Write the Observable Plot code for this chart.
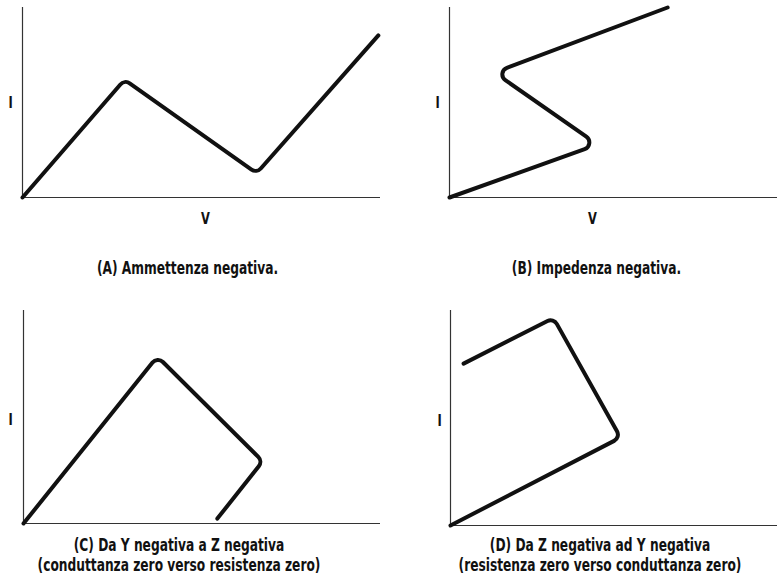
<!DOCTYPE html>
<html>
<head>
<meta charset="utf-8">
<script src="https://cdn.jsdelivr.net/npm/d3@7"></script>
<script src="https://cdn.jsdelivr.net/npm/@observablehq/plot@0.6"></script>
<style>
  html, body { margin: 0; padding: 0; background: #fff; }
  #wrap { position: relative; width: 777px; height: 580px; overflow: hidden; }
  .panel { position: absolute; }
</style>
</head>
<body>
<div id="wrap"></div>
<script>
// Panel (A) Ammettenza negativa — V (x) and I (y), arbitrary units 0..10
const aV = [0, 2.85, 6.54, 9.94];
const aI = [0, 6.2, 1.28, 8.53];
// Panel (B) Impedenza negativa
const bV = [0, 4.51, 1.37, 6.65];
const bI = [0, 2.79, 6.58, 10.0];
// Panel (C) Da Y negativa a Z negativa
const cV = [0, 3.75, 6.70, 5.43];
const cI = [0, 7.84, 2.92, 0.23];
// Panel (D) Da Z negativa ad Y negativa
const dV = [0, 5.20, 3.15, 0.40];
const dI = [0, 4.09, 9.65, 7.53];

const xLabel = "V";
const yLabel = "I";
const captionA = "(A) Ammettenza negativa.";
const captionB = "(B) Impedenza negativa.";
const captionC = "(C) Da Y negativa a Z negativa\n(conduttanza zero verso resistenza zero)";
const captionD = "(D) Da Z negativa ad Y negativa\n(resistenza zero verso conduttanza zero)";

const FONT = "'DejaVu Sans Condensed', 'Liberation Sans Narrow', sans-serif";

// Polyline with rounded corners (fixed radius), used as a Plot curve factory
function roundedCorners(radius) {
  return function(context) {
    let pts = [];
    return {
      areaStart() {}, areaEnd() {},
      lineStart() { pts = []; },
      point(x, y) { pts.push([+x, +y]); },
      lineEnd() {
        if (!pts.length) return;
        context.moveTo(pts[0][0], pts[0][1]);
        for (let k = 1; k < pts.length - 1; k++) {
          context.arcTo(pts[k][0], pts[k][1], pts[k + 1][0], pts[k + 1][1], radius);
        }
        const last = pts[pts.length - 1];
        context.lineTo(last[0], last[1]);
      }
    };
  };
}

function panel(V, I, opts) {
  const pts = V.map((v, i) => ({v, i: I[i]}));
  const textStyle = {fontWeight: "bold", fontFamily: FONT, fill: "#111", lineAnchor: "middle"};
  const marks = [
    Plot.ruleX([0], {stroke: "#333", strokeWidth: 1.2}),
    Plot.ruleY([0], {stroke: "#333", strokeWidth: 1.2}),
    Plot.line(pts, {x: "v", y: "i", stroke: "#111", strokeWidth: 4, curve: roundedCorners(7),
      strokeLinejoin: "round", strokeLinecap: "round"}),
    Plot.text([yLabel], {text: d => d, frameAnchor: "left", dx: opts.iDx, dy: opts.iDy || 0,
      fontSize: 15, ...textStyle}),
    Plot.text([opts.caption], {text: d => d, frameAnchor: "bottom", dx: opts.capDx, dy: opts.capDy,
      fontSize: 16, lineHeight: 1.19, ...textStyle})
  ];
  if (opts.showV) {
    marks.push(Plot.text([xLabel], {text: d => d, frameAnchor: "bottom", dx: opts.vDx, dy: 21,
      fontSize: 15, ...textStyle}));
  }
  const p = Plot.plot({
    width: opts.width, height: opts.height,
    marginLeft: opts.ml, marginRight: opts.mr, marginTop: opts.mt, marginBottom: opts.mb,
    x: {domain: [0, 10], axis: null},
    y: {domain: [0, 10], axis: null},
    style: {background: "transparent", overflow: "visible"},
    marks
  });
  // condense lettering horizontally, like the narrow typeface of the original
  p.querySelectorAll("text").forEach(t => {
    const tr = t.getAttribute("transform") || "";
    t.setAttribute("transform", tr + " scale(0.85,1.05)");
  });
  p.classList.add("panel");
  p.style.left = opts.left + "px";
  p.style.top = opts.top + "px";
  document.getElementById("wrap").appendChild(p);
}

panel(aV, aI, {left: 0, top: 0, width: 390, height: 290, ml: 22, mr: 10, mt: 7, mb: 93,
  iDx: -14, caption: captionA, capDx: -14, capDy: 70, showV: true, vDx: 4});
panel(bV, bI, {left: 390, top: 0, width: 387, height: 290, ml: 59, mr: 0, mt: 7, mb: 93,
  iDx: -14, caption: captionB, capDx: -17, capDy: 70, showV: true, vDx: -21});
panel(cV, cI, {left: 0, top: 290, width: 390, height: 290, ml: 23, mr: 10, mt: 20, mb: 57,
  iDx: -15, iDy: 3, caption: captionC, capDx: -23, capDy: 31.5, showV: false});
panel(dV, dI, {left: 390, top: 290, width: 387, height: 290, ml: 60, mr: 0, mt: 20, mb: 55,
  iDx: -13, iDy: 3, caption: captionD, capDx: -14, capDy: 29.5, showV: false});
</script>
</body>
</html>
